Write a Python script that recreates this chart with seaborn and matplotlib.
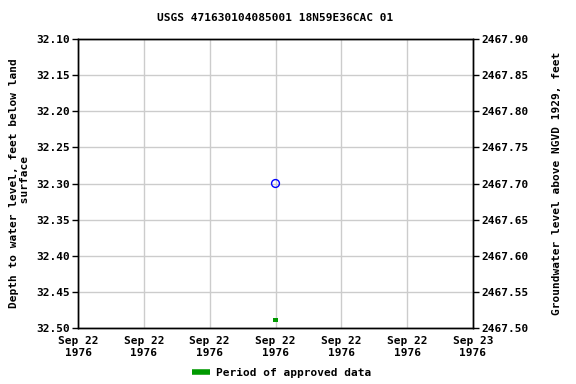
import matplotlib
matplotlib.use("Agg")
import matplotlib.pyplot as plt
import seaborn as sns
import pandas as pd
import numpy as np
from matplotlib.lines import Line2D

sns.set_theme(style="white")
plt.rcParams['font.family'] = ['DejaVu Sans Mono']
plt.rcParams['font.weight'] = 'bold'
plt.rcParams['text.color'] = 'black'
plt.rcParams['axes.labelcolor'] = 'black'
plt.rcParams['xtick.color'] = 'black'
plt.rcParams['ytick.color'] = 'black'
plt.rcParams['axes.labelweight'] = 'bold'
plt.rcParams['axes.titleweight'] = 'bold'

# Data
obs_time = pd.to_datetime(["1976-09-22 12:00"])
obs_depth = [32.30]
approved_time = pd.to_datetime(["1976-09-22 12:00"])
approved_depth = [32.489]
tick_times = pd.date_range("1976-09-22 00:00", "1976-09-23 00:00", periods=7)
tick_labels = ["Sep 22\n1976"] * 6 + ["Sep 23\n1976"]
depth_ticks = [32.10, 32.15, 32.20, 32.25, 32.30, 32.35, 32.40, 32.45, 32.50]
datum = 2500.0  # elevation = datum - depth

df_obs = pd.DataFrame({"time": obs_time, "depth": obs_depth})
df_app = pd.DataFrame({"time": approved_time, "depth": approved_depth})

fig = plt.figure(figsize=(5.76, 3.84), dpi=100)
ax = fig.add_axes([78/576, 1-328/384, (473-78)/576, (328-39)/384])

sns.scatterplot(data=df_obs, x="time", y="depth", ax=ax, marker="o", s=32,
                facecolor="none", edgecolor="#0000ff", linewidth=1.0, zorder=5)
sns.scatterplot(data=df_app, x="time", y="depth", ax=ax, marker="s", s=10,
                color="#009900", edgecolor="none", linewidth=0, zorder=5)

ax.set_xlim(tick_times[0], tick_times[-1])
ax.set_ylim(32.50, 32.10)
ax.set_yticks(depth_ticks)
ax.set_yticklabels([f"{v:.2f}" for v in depth_ticks], fontsize=8)
ax.set_xticks(tick_times)
ax.set_xticklabels(tick_labels, fontsize=8)
ax.grid(True, color="#cccccc", linewidth=1)
ax.set_axisbelow(True)
for s in ax.spines.values():
    s.set_color("black")
    s.set_linewidth(1)
ax.tick_params(axis="both", direction="out", length=4, color="black", width=1, pad=2)
ax.set_xlabel("")
ax.set_ylabel("Depth to water level, feet below land\n surface", fontsize=8)

ax2 = ax.twinx()
ax2.set_ylim(datum - 32.50, datum - 32.10)
elev_ticks = [datum - v for v in depth_ticks]
ax2.set_yticks(elev_ticks)
ax2.set_yticklabels([f"{v:.2f}" for v in elev_ticks], fontsize=8)
ax2.tick_params(axis="y", direction="out", length=4, color="black", width=1, pad=2)
ax2.set_ylabel("Groundwater level above NGVD 1929, feet", fontsize=8, labelpad=17)
ax2.grid(False)
for s in ax2.spines.values():
    s.set_color("black")
    s.set_linewidth(1)

ax.set_title("USGS 471630104085001 18N59E36CAC 01", fontsize=8, pad=13)

handle = Line2D([0], [0], color="#009900", linewidth=4, solid_capstyle="butt")
fig.legend([handle], ["Period of approved data"], loc="lower center",
           bbox_to_anchor=(0.489, -0.01), frameon=False, fontsize=8,
           handlelength=1.6, handletextpad=0.5)

fig.savefig("out.png", dpi=100)
